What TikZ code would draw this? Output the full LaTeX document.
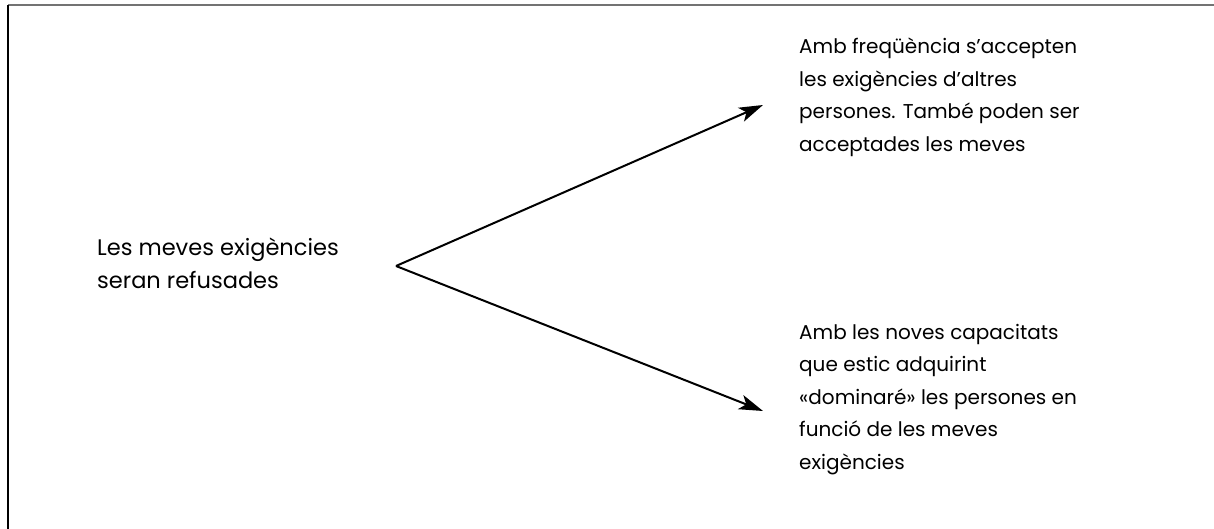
\documentclass[tikz,border=0pt]{standalone}
\usepackage{fontspec}
\setmainfont{Poppins}
\usetikzlibrary{arrows.meta}
\begin{document}
\begin{tikzpicture}[x=1pt,y=-1pt,
  label text/.style={anchor=north west,inner sep=0pt,align=left,
    font=\fontsize{20}{32.5}\selectfont},
  big text/.style={label text,font=\fontsize{22.5}{33}\selectfont},
  branch/.style={line width=2pt,-{Stealth[length=24pt,width=15pt,inset=6pt]}}]
  \useasboundingbox (0,0) rectangle (1214,529);
  % frame edges
  \draw[line width=2pt,gray!90!black] (8,5.5) -- (1214,5.5);
  \draw[line width=2pt,black] (8,5.5) -- (8,529);
  % statements
  \node[big text] (start) at (97,238) {Les meves exigències\\seran refusades};
  \node[label text] (upper) at (799,38) {Amb freqüència s’accepten\\les exigències d’altres\\persones. També poden ser\\acceptades les meves};
  \node[label text] (lower) at (799,324) {Amb les noves capacitats\\que estic adquirint\\«dominaré» les persones en\\funció de les meves\\exigències};
  % branching arrows
  \coordinate (fork) at (396,266);
  \coordinate (tipA) at (763,105);
  \coordinate (tipB) at (763,411);
  \draw[branch] (fork) -- (tipA);
  \draw[branch] (fork) -- (tipB);
\end{tikzpicture}
\end{document}
